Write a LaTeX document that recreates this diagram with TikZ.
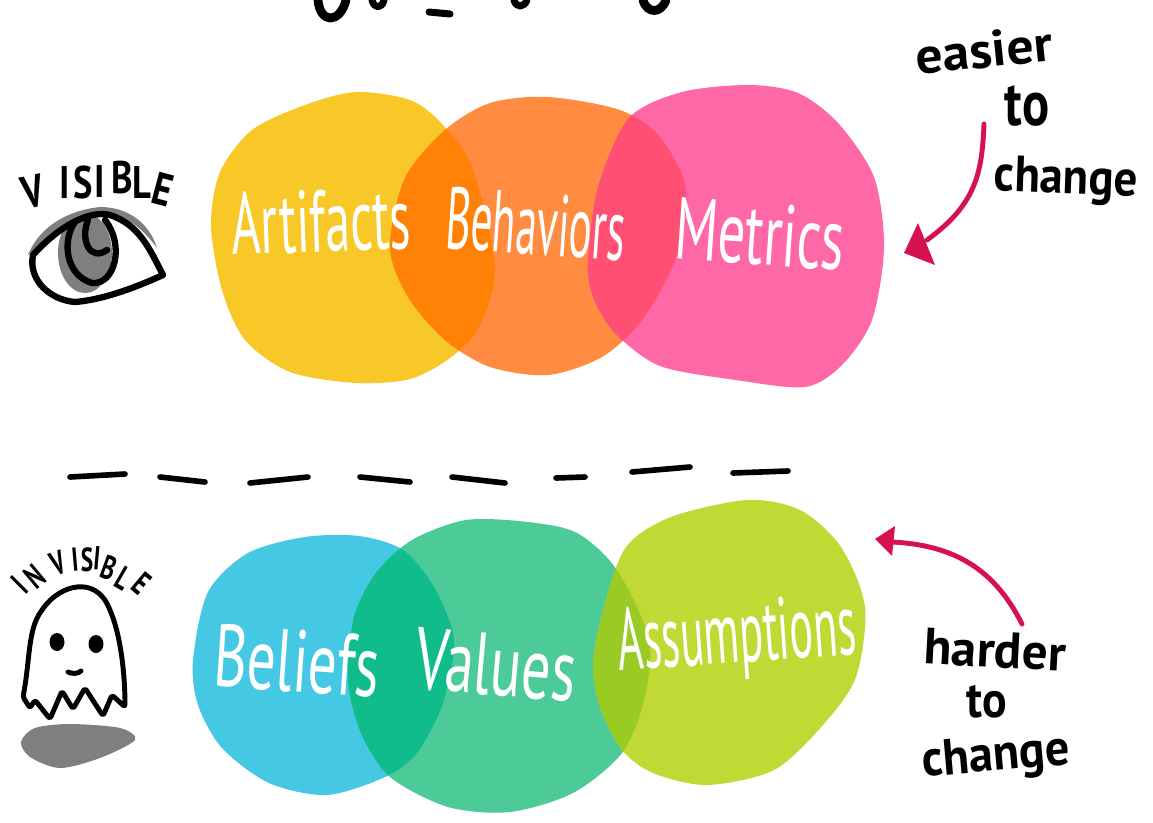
\documentclass[tikz,border=0pt]{standalone}
\usepackage{graphicx}
\usepackage{fontspec}
\setmainfont{PT Sans}
\usepackage{tikz}
\definecolor{artifactsc}{HTML}{F8C828}
\definecolor{behaviorsc}{HTML}{FF8C40}
\definecolor{metricsc}{HTML}{FF68A6}
\definecolor{beliefsc}{HTML}{45C8E4}
\definecolor{valuesc}{HTML}{4CCB98}
\definecolor{assumptionsc}{HTML}{C0D934}
\definecolor{overlapa}{HTML}{FF8206}
\definecolor{overlapb}{HTML}{FF4F72}
\definecolor{overlapc}{HTML}{10BB8C}
\definecolor{overlapd}{HTML}{9ACB25}
\definecolor{arrowc}{HTML}{D6114F}
\definecolor{shadowc}{HTML}{7F7F80}
\newcommand{\narrow}[2]{\scalebox{#1}[1]{#2}}
\newcommand{\artifactsblob}{plot[smooth cycle] coordinates {(211,225) (220,172) (252,130) (305,105) (356,92) (410,100) (441,123) (472,167) (495,267) (479,327) (450,358) (410,379) (356,383) (290,372) (245,340) (222,290)}}
\newcommand{\behaviorsblob}{plot[smooth cycle] coordinates {(390,247) (405,178) (445,130) (490,103) (548,97) (620,110) (660,137) (686,190) (675,260) (642,320) (602,357) (548,375) (490,367) (445,340) (408,297)}}
\newcommand{\metricsblob}{plot[smooth cycle] coordinates {(588,260) (598,187) (629,118) (682,92) (749,85) (798,93) (838,123) (874,177) (884,247) (872,320) (842,365) (805,387) (736,380) (660,366) (615,333) (593,297)}}
\newcommand{\beliefsblob}{plot[smooth cycle] coordinates {(193,660) (208,592) (248,553) (305,537) (359,536) (403,550) (434,587) (454,640) (443,703) (417,753) (385,777) (327,795) (269,783) (222,748) (198,705)}}
\newcommand{\valuesblob}{plot[smooth cycle] coordinates {(348,680) (354,617) (376,573) (412,540) (466,520) (528,522) (577,533) (617,570) (649,640) (644,700) (622,753) (573,793) (510,812) (448,807) (390,777) (361,733)}}
\newcommand{\assumptionsblob}{plot[smooth cycle] coordinates {(593,663) (604,607) (626,547) (671,517) (747,500) (800,510) (841,547) (865,607) (856,677) (823,725) (774,770) (707,785) (653,773) (622,750) (600,707)}}
\tikzset{
    blobtext/.style={text=white, inner sep=0pt, font=\fontsize{50}{50}\selectfont},
    handtext/.style={text=black, inner sep=0pt, font=\bfseries\fontsize{29}{29}\selectfont},
    lettertext/.style={text=black, inner sep=0pt, font=\bfseries\fontsize{26}{26}\selectfont},
    smalltext/.style={text=black, inner sep=0pt, font=\bfseries\fontsize{19}{19}\selectfont},
    ink/.style={draw=black, line width=3.6pt, line cap=round, line join=round},
    dashink/.style={draw=black, line width=3.2pt, line cap=round},
    redink/.style={draw=arrowc, line width=2.8pt, line cap=round},
}
\begin{document}
\begin{tikzpicture}[x=0.02cm, y=-0.02cm]
    \useasboundingbox (0,0) rectangle (1153,822);

    % top row
    \fill[artifactsc] \artifactsblob;
    \fill[behaviorsc] \behaviorsblob;
    \fill[metricsc] \metricsblob;
    \begin{scope}
        \clip \artifactsblob;
        \fill[overlapa] \behaviorsblob;
    \end{scope}
    \begin{scope}
        \clip \behaviorsblob;
        \fill[overlapb] \metricsblob;
    \end{scope}

    % bottom row
    \fill[beliefsc] \beliefsblob;
    \fill[valuesc] \valuesblob;
    \fill[assumptionsc] \assumptionsblob;
    \begin{scope}
        \clip \beliefsblob;
        \fill[overlapc] \valuesblob;
    \end{scope}
    \begin{scope}
        \clip \valuesblob;
        \fill[overlapd] \assumptionsblob;
    \end{scope}

    \node[blobtext, rotate=2] (artifacts) at (321,221) {\narrow{.57}{Artifacts}};
    \node[blobtext, rotate=-4] (behaviors) at (536,224) {\narrow{.49}{Behaviors}};
    \node[blobtext, rotate=-4] (metrics) at (760,234) {\narrow{.62}{Metrics}};
    \node[blobtext, rotate=-4] (beliefs) at (297,661) {\narrow{.65}{Beliefs}};
    \node[blobtext, rotate=-5] (values) at (496,665) {\narrow{.66}{Values}};
    \node[blobtext, rotate=4] (assumptions) at (737,640) {\narrow{.5}{Assumptions}};

    % title remains, cut by the top edge
    \draw[ink, line width=5pt] (318,0) .. controls (320,24) and (340,24) .. (346,0);
    \draw[ink, line width=4pt] (372,0) .. controls (374,9) and (382,9) .. (384,0);
    \draw[ink, line width=4pt] (429,12) -- (450,14);
    \draw[ink, line width=4pt] (514,0) .. controls (516,8) and (524,8) .. (527,0);
    \draw[ink, line width=5pt] (643,0) .. controls (647,14) and (661,14) .. (666,0);

    % dashed line
    \foreach \a/\b/\c/\d in {70/477/125/474, 160/477/205/482, 250/483/308/477, 360/477/410/482, 452/477/505/483, 556/478/585/477, 632/472/690/467, 733/473/788/471}
        \draw[dashink] (\a,\b) -- (\c,\d);

    % right side
    \node[handtext, rotate=6] (easier) at (984,50) {\narrow{1.05}{easier}};
    \node[handtext, font=\bfseries\fontsize{36}{36}\selectfont] (easierto) at (1027,106) {\narrow{.8}{to}};
    \node[handtext, rotate=-2] (easierchange) at (1066,181) {\narrow{.92}{change}};
    \node[handtext, rotate=-3] (harder) at (995,650) {\narrow{1}{harder}};
    \node[handtext] (harderto) at (987,702) {\narrow{.9}{to}};
    \node[handtext, rotate=5] (harderchange) at (996,758) {\narrow{.95}{change}};

    \coordinate (upstart) at (984,124);
    \coordinate (uptip) at (927,240);
    \draw[redink] (upstart) .. controls (982,175) and (975,205) .. (uptip);
    \fill[arrowc] (918,223) -- (904,253) -- (935,265) -- cycle;

    \coordinate (downstart) at (1022,624);
    \coordinate (downtip) at (892,542);
    \draw[redink] (downstart) .. controls (995,570) and (955,545) .. (downtip);
    \fill[arrowc] (875,539) -- (895,526) -- (892,556) -- cycle;

    % eye
    \fill[shadowc] (28,255) .. controls (40,225) and (70,210) .. (100,207) .. controls (130,207) and (150,225) .. (157,248) .. controls (140,225) and (125,215) .. (100,214) .. controls (75,216) and (50,235) .. (34,252) -- cycle;
    \fill[shadowc] (85,253) ellipse (27 and 40);
    \draw[ink] (33,255) .. controls (60,225) and (90,210) .. (110,215) .. controls (140,225) and (150,250) .. (163,275) .. controls (130,290) and (100,300) .. (75,302) .. controls (50,300) and (28,280) .. (33,255) -- cycle;
    \draw[ink] (75,222) .. controls (62,240) and (65,275) .. (92,283) .. controls (115,285) and (125,245) .. (105,220);
    \draw[ink] (88,220) .. controls (80,240) and (90,262) .. (107,250);

    % visible, one letter at a time
    \foreach \i/\l/\x/\y/\r in {1/V/33/192/12, 2/I/65/183/0, 3/S/83/183/0, 4/I/100/182/0, 5/B/122/178/0, 6/L/142/183/0, 7/E/163/190/-15}
        \node[lettertext, rotate=\r] (vis\i) at (\x,\y) {\narrow{.8}{\l}};

    % ghost
    \draw[ink, line width=2.8pt, rounded corners=1.5pt] (23,697) .. controls (30,660) and (28,630) .. (42,610) .. controls (60,585) and (95,575) .. (110,610) .. controls (122,640) and (125,680) .. (125,707) -- (112,695) -- (103,716) -- (85,688) -- (73,709) -- (62,691) -- (50,719) -- (35,700) -- (30,708) -- cycle;
    \fill[black] (57,642) ellipse (7.5 and 9);
    \fill[black] (96,644) ellipse (7.5 and 9);
    \draw[ink, line width=2.8pt] (68,672) .. controls (72,674) and (78,674) .. (81,671);
    \fill[shadowc] plot[smooth cycle] coordinates {(21,742) (35,728) (70,724) (120,728) (135,740) (100,758) (60,768) (30,757)};

    % invisible, one letter at a time
    \foreach \i/\l/\x/\y/\r in {1/I/20/585/45, 2/N/35/577/40, 3/V/58/563/20, 4/I/75/560/5, 5/S/87/560/0, 6/I/97/558/-5, 7/B/109/568/-20, 8/L/124/578/-30, 9/E/142/583/-40}
        \node[smalltext, rotate=\r] (inv\i) at (\x,\y) {\narrow{.7}{\l}};
\end{tikzpicture}
\end{document}
